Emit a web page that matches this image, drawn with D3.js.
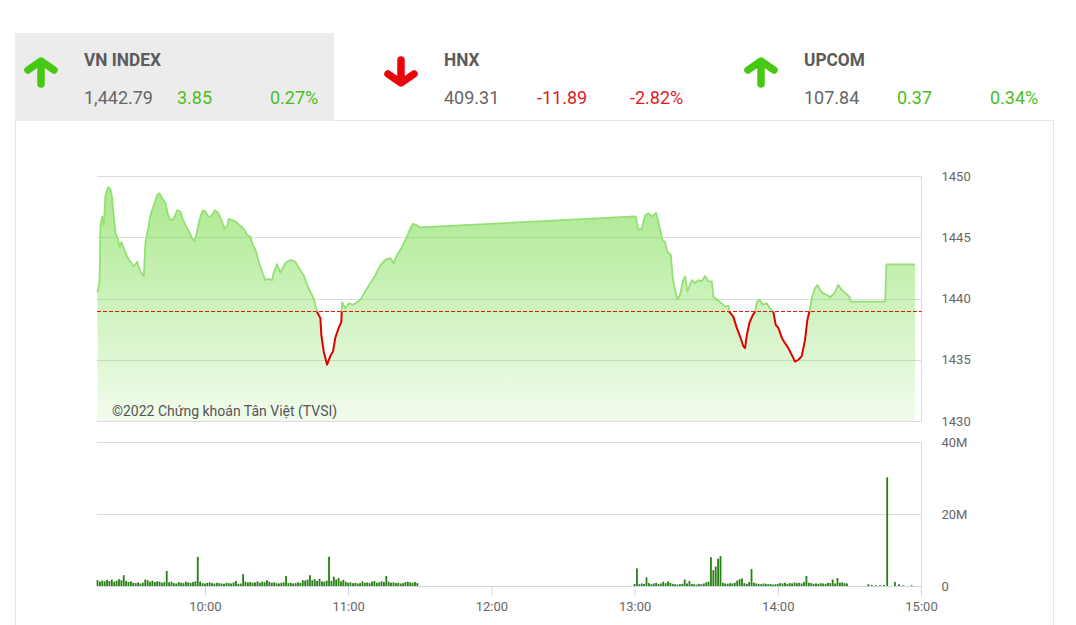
<!DOCTYPE html>
<html><head><meta charset="utf-8">
<script src="https://cdn.jsdelivr.net/npm/d3@7"></script>
<style>
html,body{margin:0;padding:0;background:#fff;}
svg{display:block;font-family:Roboto,"Noto Sans",sans-serif;}
</style></head><body>
<svg id="c" width="1076" height="625"></svg>
<script>
// ---------- header data ----------
const indexNames = ["VN INDEX", "HNX", "UPCOM"];
const indexValues = ["1,442.79", "409.31", "107.84"];
const indexChanges = ["3.85", "-11.89", "0.37"];
const indexPercents = ["0.27%", "-2.82%", "0.34%"];
const indexUp = [true, false, true];

// ---------- price data (time, VN-Index) ----------
const refPrice = 1438.94;
const pricePoints = [
["09:15:00",1440.5],["09:15:50",1441.4],["09:16:15",1446.0],["09:16:58",1446.7],["09:17:38",1446.0],
["09:18:21",1448.45],["09:19:29",1449.1],["09:20:27",1448.9],["09:21:09",1448.2],["09:21:49",1446.7],
["09:22:32",1445.35],["09:23:40",1444.8],["09:24:13",1444.2],["09:25:03",1444.6],["09:26:01",1444.1],
["09:27:26",1443.4],["09:28:49",1443.0],["09:30:12",1442.6],["09:31:37",1443.0],["09:33:00",1442.2],
["09:34:23",1441.8],["09:35:06",1444.6],["09:36:14",1445.7],["09:37:11",1446.8],["09:38:34",1447.6],
["09:40:00",1448.45],["09:40:57",1448.6],["09:42:05",1448.2],["09:43:28",1447.8],["09:44:36",1446.8],
["09:45:34",1446.4],["09:46:57",1446.5],["09:48:22",1447.2],["09:49:45",1447.1],["09:50:43",1446.5],
["09:51:51",1446.0],["09:53:13",1445.5],["09:54:39",1444.9],["09:55:44",1444.7],["09:56:44",1445.5],
["09:57:42",1446.4],["09:59:05",1447.2],["10:00:13",1447.1],["10:01:21",1446.7],["10:02:44",1446.7],
["10:04:07",1447.2],["10:05:32",1447.0],["10:06:55",1446.4],["10:08:18",1445.7],["10:09:18",1445.9],
["10:09:58",1446.5],["10:11:24",1446.4],["10:12:47",1446.3],["10:14:27",1446.0],["10:16:15",1445.7],
["10:17:41",1445.2],["10:19:03",1445.05],["10:20:01",1444.4],["10:21:09",1444.0],["10:22:32",1443.0],
["10:23:57",1442.2],["10:25:20",1441.5],["10:26:43",1441.6],["10:28:09",1441.5],["10:28:49",1442.1],
["10:30:14",1442.8],["10:31:37",1442.1],["10:33:43",1442.9],["10:35:48",1443.15],["10:37:54",1443.0],
["10:39:17",1442.5],["10:41:22",1441.9],["10:43:28",1440.8],["10:45:34",1440.0],["10:46:59",1438.9],
["10:48:22",1438.4],["10:48:47",1437.0],["10:49:45",1435.7],["10:51:10",1434.6],["10:52:33",1435.3],
["10:53:41",1435.7],["10:54:39",1436.8],["10:56:02",1437.6],["10:57:09",1438.1],["10:57:27",1439.7],
["10:58:49",1439.2],["11:00:13",1439.6],["11:02:18",1439.5],["11:05:07",1439.9],["11:07:12",1440.6],
["11:09:18",1441.25],["11:11:23",1441.9],["11:13:29",1442.7],["11:15:35",1443.15],["11:17:40",1443.3],
["11:19:03",1442.9],["11:20:29",1443.55],["11:21:51",1443.95],["11:23:14",1444.5],["11:24:40",1445.05],
["11:26:03",1445.7],["11:27:10",1446.1],["11:28:33",1446.0],["11:30:00",1445.8],
["13:00:30",1446.7],["13:01:38",1445.6],["13:03:03",1445.7],["13:04:26",1446.8],["13:05:49",1446.95],
["13:07:14",1446.7],["13:09:02",1447.0],["13:10:25",1445.9],["13:11:40",1444.8],["13:12:48",1444.6],
["13:13:46",1443.8],["13:15:11",1443.55],["13:16:01",1441.65],["13:16:59",1440.7],["13:17:57",1439.9],
["13:19:05",1440.3],["13:20:13",1441.4],["13:21:10",1441.8],["13:22:08",1440.6],["13:23:59",1441.5],
["13:25:21",1441.25],["13:26:44",1441.5],["13:28:10",1441.4],["13:29:33",1441.85],["13:30:56",1441.4],
["13:32:21",1441.4],["13:33:01",1440.15],["13:34:42",1439.9],["13:36:32",1439.6],["13:37:55",1439.35],
["13:39:18",1439.4],["13:39:43",1438.9],["13:41:24",1438.5],["13:42:49",1437.6],["13:44:12",1436.9],
["13:45:35",1436.1],["13:46:18",1435.95],["13:47:01",1437.0],["13:48:06",1438.0],["13:49:31",1438.65],
["13:50:29",1438.9],["13:51:12",1439.7],["13:52:17",1439.9],["13:53:42",1439.5],["13:55:23",1439.6],
["13:56:46",1439.2],["13:58:09",1438.9],["13:59:09",1437.85],["14:00:15",1437.6],["14:01:40",1436.8],
["14:03:03",1436.35],["14:04:26",1435.95],["14:05:51",1435.4],["14:07:14",1434.85],["14:08:37",1435.0],
["14:10:02",1435.3],["14:11:25",1436.6],["14:12:23",1438.25],["14:13:13",1438.9],["14:14:14",1440.0],
["14:15:37",1440.85],["14:16:35",1441.1],["14:17:42",1440.7],["14:19:05",1440.4],["14:20:30",1440.3],
["14:21:53",1440.1],["14:23:34",1440.4],["14:25:22",1441.1],["14:26:47",1440.7],["14:28:35",1440.4],
["14:29:58",1440.15],["14:30:33",1439.75],["14:45:00",1439.75],["14:45:30",1442.79],["14:57:30",1442.79]
];
const priceTicks = [1430, 1435, 1440, 1445, 1450];

// ---------- volume data (millions of shares) ----------
const morningStart = "09:15:00";   // one bar per minute
const morningVol = [
1.6,1.2,1.5,1.3,1.7,1.4,1.8,1.2,1.5,1.9,
1.6,3.0,1.4,1.1,1.3,0.9,0.8,1.0,0.7,0.9,
1.8,1.6,1.2,1.5,1.1,1.3,1.2,0.9,1.1,4.2,
1.0,1.2,0.8,0.7,1.1,0.9,0.8,1.2,1.0,0.9,
1.1,1.3,8.1,1.2,0.8,0.7,0.9,1.0,0.8,0.7,
0.9,0.8,0.7,0.6,0.9,0.8,0.7,1.0,1.4,0.6,
0.7,3.3,1.2,1.0,1.1,0.9,1.0,1.3,0.9,1.2,
1.1,1.6,1.2,0.9,1.0,0.8,0.7,0.9,1.0,2.8,
0.8,0.9,0.7,0.8,1.0,0.9,1.6,1.5,1.8,3.0,
1.6,1.9,1.4,2.0,1.3,1.2,1.5,8.1,1.4,2.6,
1.8,2.2,1.3,1.7,1.2,0.9,1.0,0.8,0.9,0.7,
0.8,1.3,0.9,1.0,0.8,1.2,1.4,0.9,1.0,1.3,
1.1,2.8,1.2,0.9,1.0,0.8,0.9,0.7,0.8,1.1,
1.2,1.0,0.9,1.1,0.8
];
const afternoonStart = "13:00:00";
const afternoonVol = [
0.6,4.9,0.5,0.7,0.6,2.4,0.8,0.5,0.7,0.9,
0.6,0.7,1.2,0.8,1.3,0.9,0.6,0.5,0.4,0.5,
0.6,1.8,0.7,1.4,0.6,0.5,0.4,0.6,0.5,0.7,
1.0,1.2,8.0,4.4,5.4,7.6,8.3,0.9,0.7,0.6,
0.8,0.7,0.9,1.5,1.9,2.1,0.8,0.6,1.1,4.7,
0.9,0.7,0.6,0.5,0.7,0.6,0.5,0.6,0.4,0.5,
0.6,0.8,0.7,0.9,0.6,0.8,0.7,1.0,0.8,0.9,
0.7,1.1,2.8,0.9,0.8,0.6,0.7,0.6,0.8,0.7,
0.6,0.9,0.8,1.8,0.7,2.2,0.9,1.0,0.8,0.7
];
const closingTimes = ["14:37:55","14:39:22","14:41:00","14:42:50","14:44:30","14:45:50","14:49:06","14:50:48","14:52:36","14:56:06"];
const closingVol = [0.5,0.3,0.2,0.2,0.3,30.2,1.1,0.5,0.2,0.2];
const volTicks = [0, 20, 40];
const volTickLabels = ["0", "20M", "40M"];
const timeTicks = ["10:00:00","11:00:00","12:00:00","13:00:00","14:00:00","15:00:00"];

// ---------- drawing ----------
const svg = d3.select("#c");
const parse = d3.timeParse("%H:%M:%S");
const GREEN = "#47c812", RED = "#e8060c";

// header
svg.append("rect").attr("x", 15).attr("y", 33).attr("width", 319).attr("height", 88).attr("fill", "#ececec");
svg.append("path").attr("d", "M334,120.5H1053.5V625M15.5,121V625").attr("fill", "none").attr("stroke", "#e6e6e6");

indexNames.forEach((name, i) => {
  const col = 360 * i;
  const cx = 41 + col;
  const g = svg.append("g");
  const arrowCol = indexUp[i] ? GREEN : RED;
  const d = indexUp[i]
    ? `M${cx-13},70L${cx},61L${cx+13},70M${cx},63L${cx},84`
    : `M${cx-13},74L${cx},83L${cx+13},74M${cx},60L${cx},81`;
  g.append("path").attr("d", d).attr("fill", "none").attr("stroke", arrowCol)
    .attr("stroke-width", 7.5).attr("stroke-linecap", "round").attr("stroke-linejoin", "round");
  g.append("text").attr("transform", `translate(${84 + col},66) scale(0.96,1)`)
    .attr("font-size", 18).attr("font-weight", "bold").attr("fill", "#5b5b5b").text(name);
  const numCol = indexUp[i] ? "#4cbd1c" : "#e01b1f";
  g.append("text").attr("x", 84 + col).attr("y", 104).attr("font-size", 18).attr("fill", "#666").text(indexValues[i]);
  g.append("text").attr("x", 177 + col).attr("y", 104).attr("font-size", 18).attr("fill", numCol).text(indexChanges[i]);
  g.append("text").attr("x", 270 + col).attr("y", 104).attr("font-size", 18).attr("fill", numCol).text(indexPercents[i]);
});

// scales
const x = d3.scaleTime().domain([parse("09:15:00"), parse("15:00:00")]).range([97.5, 921]);
const y = d3.scaleLinear().domain([1430, 1450]).range([421, 176]);
const yv = d3.scaleLinear().domain([0, 40]).range([586, 442]);
const L = 97, R = 921.5;

const defs = svg.append("defs");
const grad = defs.append("linearGradient").attr("id", "ag").attr("gradientUnits", "userSpaceOnUse")
  .attr("x1", 0).attr("y1", y(1450)).attr("x2", 0).attr("y2", y(1430));
grad.append("stop").attr("offset", 0).attr("stop-color", "#6cd93a").attr("stop-opacity", 0.6);
grad.append("stop").attr("offset", 1).attr("stop-color", "#6cd93a").attr("stop-opacity", 0.09);
const yRef = Math.round(y(refPrice)) + 0.5;
defs.append("clipPath").attr("id", "above").append("rect").attr("x", 0).attr("y", 0).attr("width", 1076).attr("height", yRef);
defs.append("clipPath").attr("id", "below").append("rect").attr("x", 0).attr("y", yRef).attr("width", 1076).attr("height", 625 - yRef);

// price gridlines
svg.append("g").selectAll("line").data(priceTicks).join("line")
  .attr("x1", L).attr("x2", R).attr("y1", d => Math.round(y(d)) + 0.5).attr("y2", d => Math.round(y(d)) + 0.5)
  .attr("stroke", "#dcdcdc");
svg.append("line").attr("x1", R).attr("x2", R).attr("y1", y(1450)).attr("y2", y(1430)).attr("stroke", "#d3dbe6");

const pts = pricePoints.map(p => ({ t: parse(p[0]), v: p[1] }));
const area = d3.area().x(d => x(d.t)).y0(y(1430)).y1(d => y(d.v));
svg.append("path").datum(pts).attr("d", area).attr("fill", "url(#ag)");

// reference line
svg.append("line").attr("x1", L).attr("x2", R).attr("y1", yRef).attr("y2", yRef)
  .attr("stroke", "#dc1c06").attr("stroke-dasharray", "4,2").attr("stroke-width", 1);

const line = d3.line().x(d => x(d.t)).y(d => y(d.v));
svg.append("path").datum(pts).attr("d", line).attr("fill", "none").attr("stroke", "#95df75")
  .attr("stroke-width", 1.8).attr("clip-path", "url(#above)").attr("stroke-linejoin", "round");
svg.append("path").datum(pts).attr("d", line).attr("fill", "none").attr("stroke", "#e00000")
  .attr("stroke-width", 2).attr("clip-path", "url(#below)").attr("stroke-linejoin", "round");

// price axis labels
const pAxis = svg.append("g").attr("transform", `translate(${R},0)`)
  .call(d3.axisRight(y).tickValues(priceTicks).tickSize(0).tickPadding(20).tickFormat(d3.format("d")));
pAxis.select(".domain").remove();
pAxis.selectAll("text").attr("font-size", 13).attr("fill", "#666").attr("font-family", "Roboto");

// watermark
svg.append("text").attr("x", 112).attr("y", 416).attr("font-size", 14).attr("fill", "#555")
  .text("©2022 Chứng khoán Tân Việt (TVSI)");

// volume gridlines
svg.append("g").selectAll("line").data(volTicks.filter(d => d > 0)).join("line")
  .attr("x1", L).attr("x2", R).attr("y1", d => Math.round(yv(d)) + 0.5).attr("y2", d => Math.round(yv(d)) + 0.5)
  .attr("stroke", "#dcdcdc");
svg.append("line").attr("x1", R).attr("x2", R).attr("y1", yv(40)).attr("y2", yv(0)).attr("stroke", "#d3dbe6");

// volume bars
const vbars = [];
const ms = parse(morningStart), as = parse(afternoonStart);
morningVol.forEach((v, i) => vbars.push({ t: d3.timeMinute.offset(ms, i), v }));
afternoonVol.forEach((v, i) => vbars.push({ t: d3.timeMinute.offset(as, i), v }));
closingTimes.forEach((t, i) => vbars.push({ t: parse(t), v: closingVol[i] }));
svg.append("g").selectAll("rect").data(vbars).join("rect")
  .attr("x", d => x(d.t) - 0.9).attr("width", 1.8)
  .attr("y", d => yv(d.v)).attr("height", d => yv(0) - yv(d.v))
  .attr("fill", "#287f14");

// volume axis labels
const vAxis = svg.append("g").attr("transform", `translate(${R},0)`)
  .call(d3.axisRight(yv).tickValues(volTicks).tickSize(0).tickPadding(20).tickFormat((d, i) => volTickLabels[i]));
vAxis.select(".domain").remove();
vAxis.selectAll("text").attr("font-size", 13).attr("fill", "#666").attr("font-family", "Roboto");

// time axis
const xAxis = svg.append("g").attr("transform", `translate(0,${yv(0)})`)
  .call(d3.axisBottom(x).tickValues(timeTicks.map(parse)).tickSize(10).tickPadding(6).tickFormat(d3.timeFormat("%H:%M")));
xAxis.select(".domain").attr("d", `M${L},0.5H${R}`).attr("stroke", "#ccd6eb");
xAxis.selectAll(".tick line").attr("stroke", "#ccd6eb");
xAxis.selectAll("text").attr("font-size", 13).attr("fill", "#666").attr("font-family", "Roboto");
</script>
</body></html>
